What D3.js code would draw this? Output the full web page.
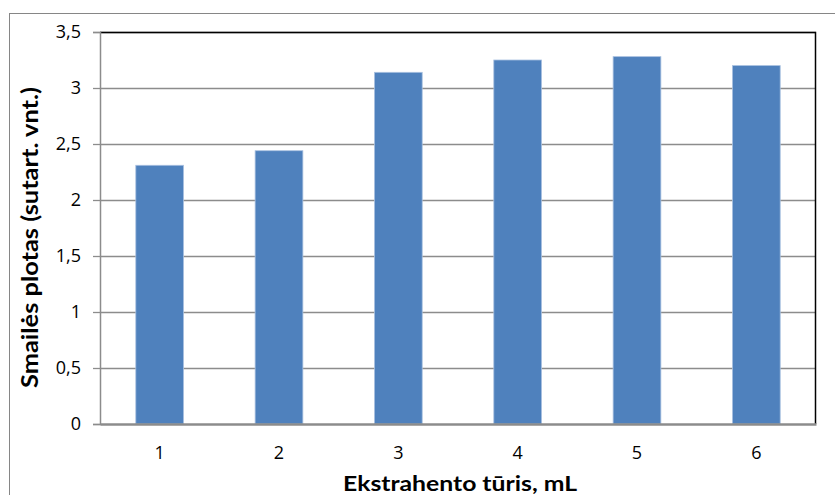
<!DOCTYPE html>
<html>
<head>
<meta charset="utf-8">
<script src="https://cdn.jsdelivr.net/npm/d3@7"></script>
<style>
  html, body { margin: 0; padding: 0; background: #fff; }
  svg { display: block; font-family: Lato, "Open Sans", sans-serif; }
  .tick text { font-family: "Open Sans", Lato, sans-serif; font-size: 18px; fill: #000; }
</style>
</head>
<body>
<svg id="chart" width="835" height="495"></svg>
<script>
// Extract volume categories and measured peak areas
const categories = ["1", "2", "3", "4", "5", "6"];
const peakArea = [2.31, 2.44, 3.14, 3.25, 3.28, 3.20];
const yTicks = [0, 0.5, 1, 1.5, 2, 2.5, 3, 3.5];
const xTitle = "Ekstrahento tūris, mL";
const yTitle = "Smailės plotas (sutart. vnt.)";

const svg = d3.select("#chart");
const margin = { left: 100, top: 32, right: 19, bottom: 71 };
const W = 835, H = 495;
const innerW = W - margin.left - margin.right;
const innerH = H - margin.top - margin.bottom;

// Outer chart frame
svg.append("rect")
  .attr("x", 9.5).attr("y", 13.5)
  .attr("width", 840).attr("height", 500)
  .attr("fill", "none").attr("stroke", "#868686").attr("stroke-width", 1);

const g = svg.append("g").attr("transform", `translate(${margin.left},${margin.top})`);

const x = d3.scaleBand().domain(categories).range([0, innerW]).paddingInner(0.6).paddingOuter(0.3);
const y = d3.scaleLinear().domain([0, 3.5]).range([innerH, 0]);

// Horizontal gridlines
g.append("g").selectAll("line").data(yTicks.filter(d => d > 0)).join("line")
  .attr("x1", 0).attr("x2", innerW)
  .attr("y1", d => Math.round(y(d)) + 0.5).attr("y2", d => Math.round(y(d)) + 0.5)
  .attr("stroke", "#8c8c8c").attr("stroke-width", 1.3);

// Bars
g.append("g").selectAll("rect").data(peakArea).join("rect")
  .attr("x", (d, i) => x(categories[i]))
  .attr("y", d => y(d))
  .attr("width", x.bandwidth())
  .attr("height", d => innerH - y(d))
  .attr("fill", "#4f81bd")
  .attr("stroke", "#a9c1e0").attr("stroke-width", 0.8);

// Plot area border: black top and right edges
g.append("path")
  .attr("d", `M0,0.5H${innerW - 0.5}V${innerH}`)
  .attr("fill", "none").attr("stroke", "#000").attr("stroke-width", 1.5);

// Y axis
const yAxis = g.append("g")
  .call(d3.axisLeft(y).tickValues(yTicks).tickSize(7).tickPadding(12)
    .tickFormat(d => String(d).replace(".", ",")));
yAxis.select(".domain").attr("stroke", "#8c8c8c").attr("stroke-width", 1.5);
yAxis.selectAll(".tick line").attr("stroke", "#8c8c8c").attr("stroke-width", 1.3);

// X axis
const xAxis = g.append("g").attr("transform", `translate(0,${innerH})`)
  .call(d3.axisBottom(x).tickSize(0).tickPadding(22));
xAxis.select(".domain").attr("stroke", "#8c8c8c").attr("stroke-width", 2.5);

// Axis titles
svg.append("text")
  .attr("x", 460).attr("y", 491)
  .attr("text-anchor", "middle").attr("font-size", 21).attr("font-weight", "bold")
  .attr("textLength", 234).attr("lengthAdjust", "spacingAndGlyphs")
  .text(xTitle);

svg.append("text")
  .attr("transform", `translate(38,237.5) rotate(-90)`)
  .attr("text-anchor", "middle").attr("font-size", 22).attr("font-weight", "bold")
  .attr("textLength", 301).attr("lengthAdjust", "spacingAndGlyphs")
  .text(yTitle);
</script>
</body>
</html>
